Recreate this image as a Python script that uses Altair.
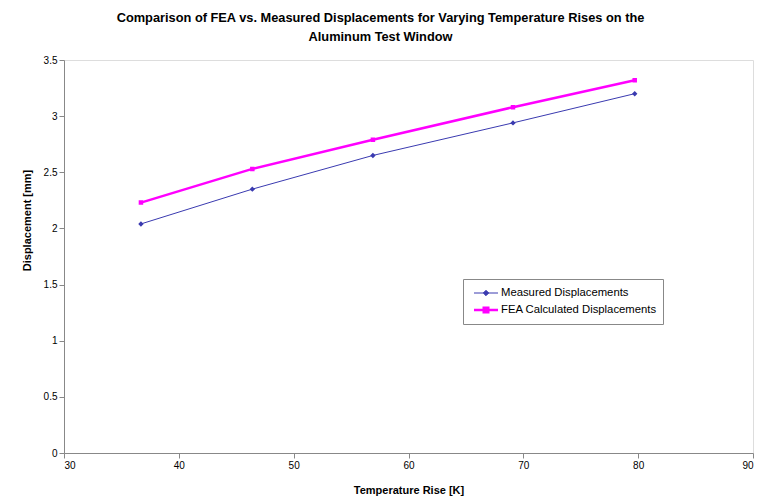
import altair as alt
import pandas as pd

# ---- data ----
temp_rise = [36.7, 46.4, 56.9, 69.1, 79.7]
measured = [2.04, 2.35, 2.65, 2.94, 3.20]
fea = [2.23, 2.53, 2.79, 3.08, 3.32]
series_names = ["Measured Displacements", "FEA Calculated Displacements"]
x_ticks = [30, 40, 50, 60, 70, 80, 90]
y_ticks = [0, 0.5, 1, 1.5, 2, 2.5, 3, 3.5]

df = pd.DataFrame({
    "temp": temp_rise + temp_rise,
    "disp": measured + fea,
    "series": [series_names[0]] * len(measured) + [series_names[1]] * len(fea),
})

FONT = "Liberation Sans"
diamond = "M-1.6,0H1.6M0,-0.36L0.36,0L0,0.36L-0.36,0Z"
square = "M-1.6,0H1.6M-0.3,-0.3H0.3V0.3H-0.3Z"

color_scale = alt.Scale(domain=series_names, range=["#3a3ab0", "#ff00ff"])
shape_scale = alt.Scale(domain=series_names, range=[diamond, square])
width_scale = alt.Scale(domain=series_names, range=[1, 2.5])

legend = alt.Legend(
    title=None, orient="none", legendX=399, legendY=219,
    strokeColor="#888888", fillColor="white", padding=6,
    labelFont=FONT, labelFontSize=11.3, labelColor="#000000",
    symbolSize=225, symbolOffset=8, rowPadding=2, labelOffset=6,
)

x = alt.X("temp:Q", title="Temperature Rise [K]",
          scale=alt.Scale(domain=[30, 90], nice=False),
          axis=alt.Axis(values=x_ticks, grid=False, titleY=37, titleBaseline="middle"))
y = alt.Y("disp:Q", title="Displacement [mm]",
          scale=alt.Scale(domain=[0, 3.5], nice=False),
          axis=alt.Axis(values=y_ticks, format="~g", grid=False, titleX=-37, titleY=160,
                        titleBaseline="middle", titleAlign="center"))

lines = alt.Chart(df).mark_line().encode(
    x=x, y=y,
    color=alt.Color("series:N", scale=color_scale, legend=legend),
    strokeWidth=alt.StrokeWidth("series:N", scale=width_scale, legend=legend),
)
points = alt.Chart(df).mark_point(filled=True, size=225, opacity=1).encode(
    x=x, y=y,
    color=alt.Color("series:N", scale=color_scale, legend=legend),
    shape=alt.Shape("series:N", scale=shape_scale, legend=legend),
)

chart = alt.layer(lines, points).properties(
    width=689, height=393,
    autosize=alt.AutoSizeParams(type="none"),
    padding={"left": 64, "top": 60, "right": 8, "bottom": 46},
    title=alt.TitleParams(
        text=["Comparison of FEA vs. Measured Displacements for Varying Temperature Rises on the",
              "Aluminum Test Window"],
        font=FONT, fontSize=12.8, fontWeight="bold", color="#000000",
        anchor="middle", dx=-28, offset=11, lineHeight=19.5,
    ),
).configure_view(
    stroke="#999999", strokeWidth=1
).configure_axis(
    grid=False, domainColor="#888888", tickColor="#888888", tickSize=4,
    labelFont=FONT, labelFontSize=10, labelColor="#000000", labelPadding=5,
    titleFont=FONT, titleFontSize=9.5, titleFontWeight="bold", titleColor="#000000",
).configure(background="white")

chart.save("out.html", embed_options={"renderer": "svg", "actions": False})
